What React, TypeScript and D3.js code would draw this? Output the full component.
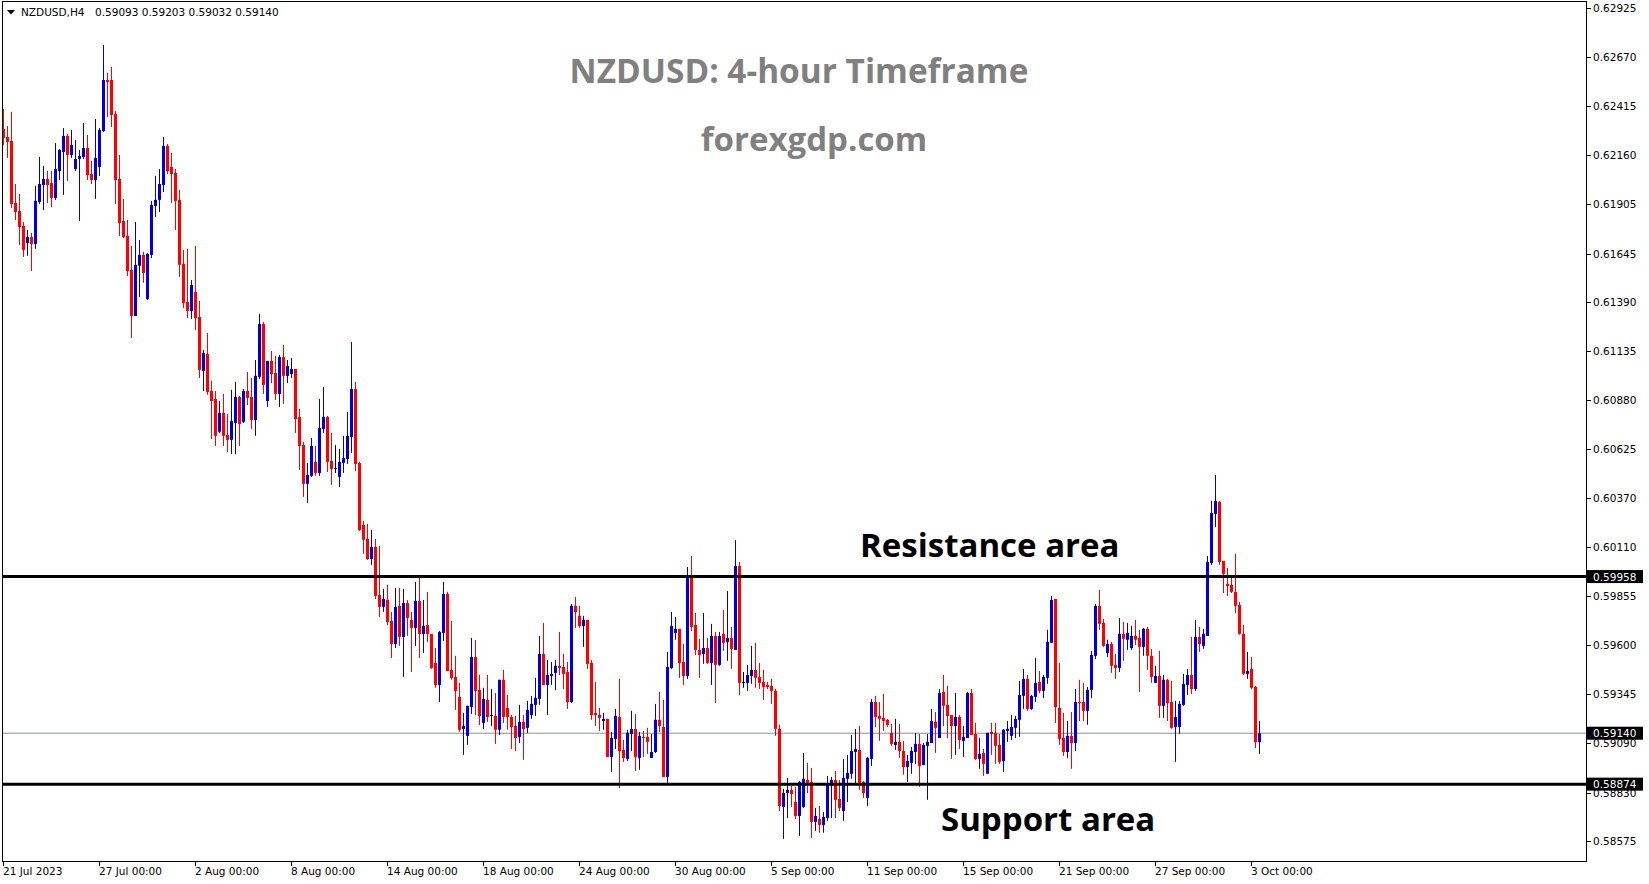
import React from "react";
import * as d3 from "d3";

const openP = [0.62295,0.62254,0.62233,0.61909,0.61867,0.61789,0.61700,0.61731,0.61695,0.61914,
0.62003,0.62034,0.62013,0.61935,0.62076,0.62175,0.62259,0.62160,0.62086,0.62139,
0.62149,0.62196,0.62060,0.62029,0.62097,0.62285,0.62551,0.62551,0.62374,0.62034,
0.61815,0.61737,0.61559,0.61319,0.61581,0.61638,0.61408,0.61638,0.61893,0.61925,
0.62003,0.62207,0.62097,0.62066,0.61925,0.61591,0.61392,0.61345,0.61444,0.61314,
0.61032,0.61120,0.60927,0.60886,0.60714,0.60813,0.60698,0.60672,0.60760,0.60896,
0.60766,0.60927,0.60896,0.60776,0.61001,0.61277,0.60875,0.61084,0.61021,0.60912,
0.61105,0.61006,0.61016,0.61042,0.60791,0.60645,0.60442,0.60484,0.60557,0.60499,
0.60729,0.60791,0.60562,0.60525,0.60479,0.60552,0.60572,0.60687,0.60938,0.60551,
0.60228,0.60155,0.60050,0.60113,0.59862,0.59800,0.59836,0.59726,0.59606,0.59805,
0.59643,0.59820,0.59732,0.59690,0.59831,0.59658,0.59705,0.59658,0.59507,0.59392,
0.59664,0.59867,0.59471,0.59434,0.59330,0.59162,0.59126,0.59277,0.59538,0.59366,
0.59194,0.59314,0.59235,0.59230,0.59158,0.59419,0.59272,0.59225,0.59178,0.59121,
0.59199,0.59168,0.59235,0.59288,0.59319,0.59554,0.59392,0.59439,0.59455,0.59492,
0.59486,0.59460,0.59303,0.59805,0.59753,0.59700,0.59732,0.59507,0.59246,0.59235,
0.59204,0.59215,0.59016,0.59110,0.59225,0.59053,0.59006,0.59136,0.59162,0.59011,
0.59121,0.59121,0.59011,0.59042,0.59210,0.59173,0.58912,0.59481,0.59664,0.59685,
0.59512,0.59439,0.59966,0.59705,0.59575,0.59554,0.59585,0.59507,0.59648,0.59497,
0.59659,0.59617,0.59638,0.59575,0.60014,0.59408,0.59403,0.59439,0.59471,0.59434,
0.59408,0.59392,0.59387,0.59361,0.59163,0.58755,0.58828,0.58844,0.58781,0.58708,
0.58755,0.58896,0.58886,0.58677,0.58692,0.58661,0.58697,0.58865,0.58896,0.58797,
0.58734,0.58902,0.58928,0.59042,0.59053,0.58886,0.58802,0.59006,0.59303,0.59230,
0.59220,0.59210,0.59142,0.59079,0.59095,0.59047,0.58964,0.58985,0.59042,0.59084,
0.58974,0.59074,0.59089,0.59199,0.59115,0.59356,0.59288,0.59235,0.59178,0.59225,
0.59100,0.59115,0.59350,0.59136,0.59006,0.59037,0.58928,0.59147,0.59142,0.59079,
0.58995,0.59152,0.59126,0.59168,0.59210,0.59335,0.59424,0.59267,0.59330,0.59408,
0.59361,0.59429,0.59612,0.59841,0.59272,0.59115,0.59042,0.59126,0.59089,0.59303,
0.59303,0.59257,0.59366,0.59544,0.59805,0.59716,0.59559,0.59606,0.59497,0.59481,
0.59659,0.59628,0.59585,0.59648,0.59638,0.59591,0.59685,0.59544,0.59403,0.59439,
0.59283,0.59419,0.59303,0.59173,0.59173,0.59288,0.59392,0.59444,0.59371,0.59643,
0.59596,0.59648,0.60029,0.60285,0.60348,0.60040,0.59920,0.59915,0.59878,0.59810,
0.59659,0.59450,0.59476,0.59382,0.59093];

const highP = [0.62400,0.62311,0.62385,0.62008,0.61956,0.61810,0.61768,0.61752,0.61998,0.62149,
0.62102,0.62076,0.62076,0.62222,0.62191,0.62300,0.62269,0.62290,0.62238,0.62186,
0.62327,0.62264,0.62128,0.62348,0.62300,0.62734,0.62588,0.62619,0.62389,0.62160,
0.61930,0.61820,0.61685,0.61810,0.61716,0.61654,0.61648,0.61920,0.62050,0.62086,
0.62254,0.62217,0.62170,0.62086,0.61977,0.61664,0.61669,0.61507,0.61685,0.61397,
0.61141,0.61230,0.60980,0.60927,0.60875,0.60912,0.60807,0.60933,0.60975,0.60901,
0.60938,0.61026,0.60995,0.61089,0.61329,0.61287,0.61084,0.61136,0.61110,0.61115,
0.61167,0.61089,0.61099,0.61042,0.60833,0.60661,0.60552,0.60682,0.60640,0.60886,
0.60948,0.60797,0.60708,0.60645,0.60625,0.60693,0.60818,0.61183,0.60975,0.60557,
0.60249,0.60233,0.60202,0.60155,0.60118,0.59894,0.59915,0.59773,0.59899,0.59899,
0.59894,0.59836,0.59773,0.59930,0.59956,0.59836,0.59878,0.59658,0.59585,0.59674,
0.59930,0.59878,0.59726,0.59544,0.59403,0.59246,0.59283,0.59638,0.59627,0.59444,
0.59377,0.59444,0.59371,0.59350,0.59419,0.59471,0.59340,0.59235,0.59230,0.59288,
0.59235,0.59309,0.59335,0.59429,0.59648,0.59716,0.59523,0.59512,0.59523,0.59669,
0.59554,0.59512,0.59815,0.59852,0.59805,0.59753,0.59732,0.59523,0.59408,0.59272,
0.59246,0.59215,0.59147,0.59267,0.59424,0.59105,0.59158,0.59257,0.59241,0.59147,
0.59152,0.59168,0.59136,0.59293,0.59356,0.59314,0.59564,0.59773,0.59747,0.59685,
0.59606,0.60008,0.60066,0.59768,0.59632,0.59768,0.59638,0.59711,0.59669,0.59669,
0.59784,0.59883,0.59695,0.60148,0.60034,0.59460,0.59497,0.59596,0.59612,0.59507,
0.59471,0.59408,0.59424,0.59371,0.59184,0.58849,0.58907,0.58865,0.58860,0.58891,
0.59037,0.58985,0.58959,0.58750,0.58760,0.58729,0.58917,0.58912,0.58943,0.58896,
0.59006,0.59027,0.59131,0.59162,0.59178,0.58891,0.59016,0.59319,0.59335,0.59303,
0.59345,0.59215,0.59189,0.59215,0.59189,0.59100,0.59027,0.59068,0.59142,0.59136,
0.59089,0.59136,0.59267,0.59251,0.59371,0.59444,0.59387,0.59235,0.59350,0.59235,
0.59178,0.59356,0.59371,0.59194,0.59115,0.59058,0.59142,0.59194,0.59194,0.59136,
0.59162,0.59204,0.59235,0.59230,0.59413,0.59476,0.59444,0.59340,0.59533,0.59465,
0.59444,0.59680,0.59857,0.59841,0.59507,0.59246,0.59204,0.59251,0.59371,0.59419,
0.59403,0.59382,0.59570,0.59815,0.59889,0.59737,0.59628,0.59617,0.59554,0.59742,
0.59721,0.59716,0.59700,0.59732,0.59680,0.59690,0.59695,0.59580,0.59492,0.59570,
0.59444,0.59424,0.59413,0.59309,0.59309,0.59450,0.59476,0.59643,0.59732,0.59695,
0.59685,0.60066,0.60353,0.60489,0.60353,0.60040,0.60003,0.59966,0.60077,0.59826,
0.59705,0.59565,0.59538,0.59387,0.59203];

const lowP = [0.62212,0.62144,0.61883,0.61820,0.61690,0.61627,0.61633,0.61554,0.61669,0.61904,
0.61872,0.61909,0.61888,0.61925,0.62029,0.61951,0.62024,0.62144,0.62076,0.61815,
0.62139,0.62029,0.62008,0.61930,0.62050,0.62280,0.62358,0.62306,0.61904,0.61737,
0.61726,0.61528,0.61204,0.61319,0.61418,0.61492,0.61402,0.61622,0.61836,0.61862,
0.61966,0.62060,0.61909,0.61768,0.61523,0.61361,0.61308,0.61303,0.61246,0.60995,
0.60927,0.60907,0.60677,0.60640,0.60708,0.60640,0.60609,0.60598,0.60598,0.60640,
0.60760,0.60854,0.60729,0.60693,0.60990,0.60912,0.60844,0.60969,0.60880,0.60844,
0.60860,0.60969,0.60995,0.60708,0.60515,0.60374,0.60343,0.60479,0.60484,0.60484,
0.60708,0.60504,0.60437,0.60499,0.60426,0.60499,0.60546,0.60603,0.60510,0.60196,
0.60077,0.60045,0.60019,0.59841,0.59747,0.59774,0.59705,0.59533,0.59585,0.59596,
0.59434,0.59648,0.59460,0.59596,0.59533,0.59559,0.59617,0.59476,0.59377,0.59303,
0.59622,0.59465,0.59419,0.59262,0.59147,0.59027,0.59079,0.59241,0.59235,0.59183,
0.59162,0.59199,0.59178,0.59084,0.59131,0.59194,0.59158,0.59058,0.59047,0.59089,
0.59001,0.59142,0.59215,0.59230,0.59288,0.59392,0.59235,0.59392,0.59366,0.59444,
0.59371,0.59267,0.59298,0.59690,0.59690,0.59591,0.59476,0.59210,0.59178,0.59152,
0.59158,0.59016,0.58938,0.59058,0.58854,0.58990,0.58995,0.59047,0.58943,0.58949,
0.59016,0.59032,0.59011,0.59037,0.59147,0.58912,0.58881,0.59476,0.59628,0.59429,
0.59392,0.59424,0.59674,0.59549,0.59429,0.59502,0.59502,0.59392,0.59298,0.59492,
0.59570,0.59518,0.59476,0.59575,0.59340,0.59377,0.59361,0.59398,0.59377,0.59371,
0.59314,0.59371,0.59293,0.59126,0.58734,0.58588,0.58697,0.58755,0.58692,0.58604,
0.58750,0.58828,0.58593,0.58630,0.58620,0.58620,0.58682,0.58697,0.58697,0.58734,
0.58682,0.58781,0.58902,0.58881,0.58844,0.58802,0.58760,0.58969,0.59173,0.59100,
0.59152,0.59173,0.59074,0.59053,0.59011,0.58923,0.58886,0.58928,0.58980,0.58860,
0.58974,0.58792,0.59089,0.59037,0.59115,0.59178,0.59115,0.59006,0.59027,0.59058,
0.59016,0.59115,0.59131,0.59001,0.58954,0.58917,0.58928,0.59027,0.58980,0.58980,
0.58938,0.59095,0.59105,0.59115,0.59121,0.59267,0.59257,0.59262,0.59303,0.59350,
0.59324,0.59398,0.59612,0.59194,0.59079,0.59022,0.59011,0.58954,0.59047,0.59204,
0.59204,0.59184,0.59324,0.59528,0.59680,0.59591,0.59538,0.59455,0.59424,0.59460,
0.59518,0.59575,0.59575,0.59601,0.59356,0.59544,0.59471,0.59403,0.59403,0.59220,
0.59220,0.59204,0.59163,0.58990,0.59137,0.59283,0.59340,0.59345,0.59361,0.59565,
0.59580,0.59648,0.60019,0.60217,0.60019,0.59872,0.59857,0.59872,0.59768,0.59654,
0.59444,0.59424,0.59371,0.59063,0.59032];

const closeP = [0.62248,0.62228,0.61904,0.61862,0.61783,0.61664,0.61731,0.61695,0.61920,0.62008,
0.62034,0.62003,0.61935,0.62086,0.62186,0.62259,0.62160,0.62212,0.62139,0.62154,
0.62196,0.62055,0.62029,0.62144,0.62290,0.62551,0.62541,0.62369,0.62029,0.61805,
0.61731,0.61554,0.61319,0.61586,0.61638,0.61544,0.61643,0.61899,0.61925,0.62008,
0.62207,0.62076,0.62060,0.61920,0.61586,0.61387,0.61345,0.61481,0.61308,0.61037,
0.61126,0.60922,0.60875,0.60693,0.60813,0.60693,0.60672,0.60771,0.60896,0.60755,
0.60927,0.60891,0.60776,0.61006,0.61277,0.60959,0.61084,0.61016,0.60912,0.61105,
0.61006,0.61058,0.61042,0.60781,0.60640,0.60442,0.60489,0.60640,0.60499,0.60734,
0.60792,0.60557,0.60520,0.60525,0.60557,0.60577,0.60693,0.60938,0.60546,0.60202,
0.60150,0.60050,0.60113,0.59857,0.59800,0.59841,0.59721,0.59606,0.59800,0.59643,
0.59820,0.59742,0.59690,0.59831,0.59658,0.59700,0.59658,0.59481,0.59392,0.59669,
0.59867,0.59465,0.59429,0.59361,0.59158,0.59178,0.59283,0.59538,0.59361,0.59230,
0.59319,0.59225,0.59235,0.59158,0.59419,0.59225,0.59225,0.59173,0.59115,0.59199,
0.59162,0.59262,0.59293,0.59324,0.59554,0.59392,0.59444,0.59450,0.59492,0.59481,
0.59450,0.59303,0.59805,0.59773,0.59700,0.59732,0.59502,0.59235,0.59235,0.59220,
0.59215,0.59016,0.59115,0.59230,0.59047,0.59011,0.59142,0.59162,0.59016,0.59126,
0.59115,0.59095,0.59042,0.59210,0.59178,0.58912,0.59486,0.59700,0.59685,0.59507,
0.59439,0.59966,0.59695,0.59575,0.59549,0.59585,0.59507,0.59648,0.59497,0.59648,
0.59612,0.59638,0.59580,0.60014,0.59403,0.59408,0.59444,0.59471,0.59429,0.59403,
0.59382,0.59382,0.59361,0.59163,0.58760,0.58828,0.58844,0.58823,0.58708,0.58886,
0.58902,0.58870,0.58677,0.58708,0.58661,0.58703,0.58880,0.58896,0.58792,0.58750,
0.58907,0.58933,0.59047,0.59058,0.58881,0.58828,0.59011,0.59303,0.59225,0.59215,
0.59204,0.59184,0.59084,0.59095,0.59047,0.58964,0.58995,0.59047,0.59084,0.58969,
0.59079,0.59095,0.59204,0.59168,0.59350,0.59283,0.59230,0.59178,0.59225,0.59105,
0.59121,0.59350,0.59131,0.59006,0.59032,0.58980,0.59142,0.59136,0.59074,0.58990,
0.59158,0.59163,0.59173,0.59215,0.59340,0.59424,0.59267,0.59335,0.59403,0.59361,
0.59434,0.59617,0.59836,0.59277,0.59110,0.59042,0.59126,0.59089,0.59303,0.59298,
0.59257,0.59366,0.59549,0.59805,0.59711,0.59596,0.59606,0.59492,0.59481,0.59659,
0.59633,0.59664,0.59648,0.59628,0.59591,0.59685,0.59544,0.59434,0.59439,0.59283,
0.59419,0.59298,0.59168,0.59225,0.59293,0.59398,0.59444,0.59371,0.59643,0.59606,
0.59659,0.60034,0.60290,0.60353,0.60034,0.59972,0.59909,0.59878,0.59805,0.59659,
0.59450,0.59465,0.59377,0.59093,0.59140];

const yTickLabels = ["0.62925","0.62670","0.62415","0.62160","0.61905","0.61645","0.61390","0.61135","0.60880","0.60625","0.60370","0.60110","0.59855","0.59600","0.59345","0.59090","0.58830","0.58575"];
const xTickIndex = [0,24,48,72,96,120,144,168,192,216,240,264,288,312];
const xTickLabels = ["21 Jul 2023","27 Jul 00:00","2 Aug 00:00","8 Aug 00:00","14 Aug 00:00","18 Aug 00:00","24 Aug 00:00","30 Aug 00:00","5 Sep 00:00","11 Sep 00:00","15 Sep 00:00","21 Sep 00:00","27 Sep 00:00","3 Oct 00:00"];
const resistanceLevel = 0.59958;
const supportLevel = 0.58874;
const lastPrice = 0.5914;
const headerValues = "0.59093 0.59203 0.59032 0.59140";

const W = 1649, H = 884;
const L = 2, T = 1, R = 1586, B = 861;
const BULL = "#0000d4", BEAR = "#ff0000";
const AX_FONT = "'DejaVu Sans', Tahoma, sans-serif";

export default function App() {
  const n = closeP.length;
  const x = d3.scaleLinear().domain([0, n - 1]).range([3.5, 3.5 + 4 * (n - 1)]);
  const y = d3.scaleLinear().domain([0.62925, 0.58575]).range([8.4, 841.4]);
  const candles = d3.range(n).map((i) => {
    const o = openP[i], c = closeP[i];
    const col = c > o ? BULL : c < o ? BEAR : "#000";
    const yo = y(o), yc = y(c);
    const top = Math.min(yo, yc), h = Math.max(1, Math.abs(yo - yc));
    const cx = x(i);
    return (
      <g key={i}>
        <line x1={cx} x2={cx} y1={y(highP[i])} y2={y(lowP[i])} stroke={col} strokeWidth={1} />
        <rect x={cx - 1.5} y={top} width={3} height={h} fill={col} />
      </g>
    );
  });
  const boxes = [resistanceLevel, lastPrice, supportLevel];
  return (
    <svg width={W} height={H} style={{ position: "absolute", left: 0, top: 0, background: "#fff" }}>
      <rect x={0} y={0} width={W} height={H} fill="#fff" />
      <line x1={L} x2={R} y1={y(lastPrice)} y2={y(lastPrice)} stroke="#8a8f98" strokeWidth={1} />
      {candles}
      <line x1={L} x2={R} y1={y(resistanceLevel)} y2={y(resistanceLevel)} stroke="#000" strokeWidth={3} />
      <line x1={L} x2={R} y1={y(supportLevel)} y2={y(supportLevel)} stroke="#000" strokeWidth={3} />
      <rect x={L + 0.5} y={T + 0.5} width={R - L} height={B - T} fill="none" stroke="#000" strokeWidth={1} />
      {yTickLabels.map((t) => (
        <g key={t}>
          <line x1={R + 0.5} x2={R + 5} y1={Math.round(y(+t)) + 0.5} y2={Math.round(y(+t)) + 0.5} stroke="#000" />
          <text x={1593} y={y(+t)} dominantBaseline="central" fontFamily={AX_FONT} fontSize={10.5} fill="#000">{t}</text>
        </g>
      ))}
      {boxes.map((v) => (
        <g key={v}>
          <rect x={R + 1} y={y(v) - 6.5} width={56} height={13} fill="#000" />
          <text x={1593} y={y(v)} dominantBaseline="central" fontFamily={AX_FONT} fontSize={10.5} fill="#fff">{v.toFixed(5)}</text>
        </g>
      ))}
      {xTickIndex.map((ix, k) => (
        <g key={ix}>
          <line x1={Math.floor(x(ix)) + 0.5} x2={Math.floor(x(ix)) + 0.5} y1={B + 0.5} y2={B + 5} stroke="#000" />
          <text x={x(ix) - 0.5} y={875} fontFamily={AX_FONT} fontSize={10.5} fill="#000">{xTickLabels[k]}</text>
        </g>
      ))}
      <polygon points="7,10 15,10 11,14.5" fill="#000" />
      <text x={21} y={16} fontFamily={AX_FONT} fontSize={10.5} fill="#000">
        NZDUSD,H4
        <tspan x={95}>{headerValues}</tspan>
      </text>
      <text x={799} y={70} textAnchor="middle" dominantBaseline="central" fontFamily="'Open Sans', sans-serif" fontWeight="bold" fontSize={33.4} fill="#808080">NZDUSD: 4-hour Timeframe</text>
      <text x={814} y={138} textAnchor="middle" dominantBaseline="central" fontFamily="'Open Sans', sans-serif" fontWeight="bold" fontSize={33} fill="#808080">forexgdp.com</text>
      <text x={860} y={544} dominantBaseline="central" fontFamily="'Open Sans', sans-serif" fontWeight="bold" fontSize={33} fill="#000">Resistance area</text>
      <text x={941} y={818} dominantBaseline="central" fontFamily="'Open Sans', sans-serif" fontWeight="bold" fontSize={33} fill="#000">Support area</text>
    </svg>
  );
}
